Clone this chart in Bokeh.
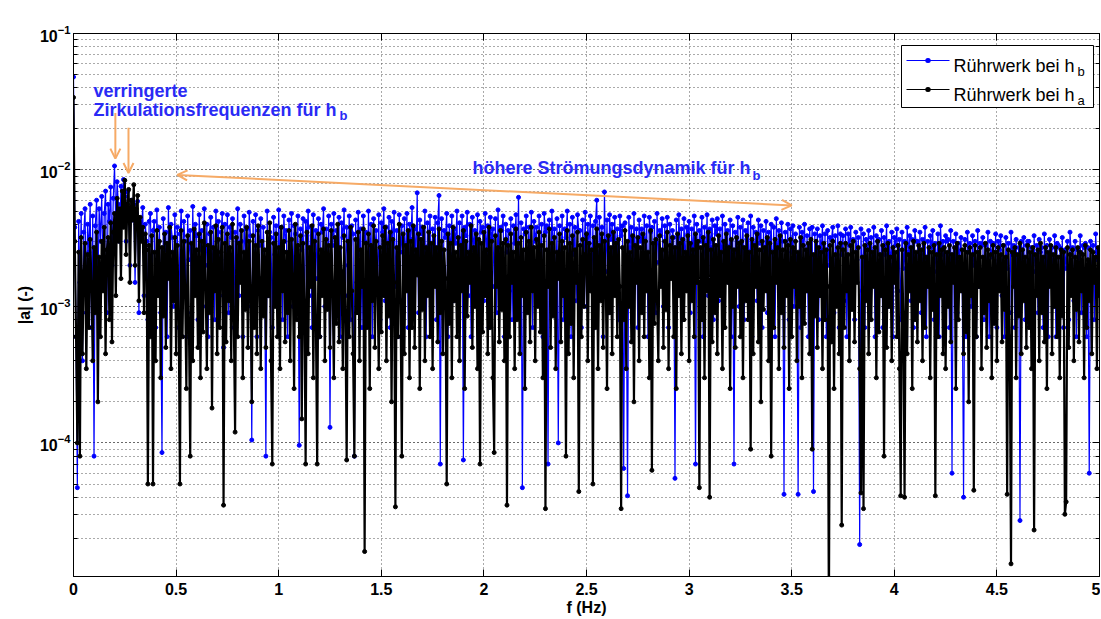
import numpy as np
from bokeh.plotting import figure
from bokeh.models import (Label, Arrow, OpenHead, LinearAxis, LogAxis, BoxAnnotation,
                          FixedTicker, CustomJSTickFormatter, Range1d)
from bokeh.embed import file_html
from bokeh.resources import INLINE

# |a| amplitude spectra, in units of 1e-5, equally spaced bins from 0 to 5 Hz
amp_hb_e5 = [
    4800, 380, 60, 4.7, 420, 150, 480, 40, 350, 520, 90, 400, 250, 560, 70, 460, 8, 390, 600, 120,
    520, 300, 640, 180, 480, 700, 90, 560, 420, 750, 200, 620, 1070, 380, 820, 560, 300, 760, 480, 850,
    640, 300, 690, 520, 200, 600, 430, 560, 150, 480, 590, 90, 420, 380, 530, 120, 400, 300, 80, 420,
    480, 110, 360, 420, 70, 510, 200, 380, 90, 8.5, 440, 260, 350, 60, 530, 180, 400, 320, 100, 470,
    200, 380, 70, 340, 500, 120, 420, 300, 60, 460, 220, 360, 90, 540, 150, 400, 330, 80, 470, 260,
    360, 100, 520, 200, 400, 60, 340, 450, 150, 380, 80, 500, 300, 420, 120, 350, 480, 50, 400, 220,
    470, 90, 380, 320, 440, 70, 350, 180, 520, 120, 400, 300, 60, 460, 240, 370, 100, 490, 330, 10.5,
    420, 150, 470, 60, 360, 280, 440, 90, 380, 200, 8, 500, 120, 350, 320, 70, 450, 240, 390, 110,
    510, 180, 380, 80, 460, 300, 360, 60, 430, 220, 480, 100, 390, 340, 150, 460, 9.6, 370, 260, 440,
    90, 420, 330, 500, 120, 380, 70, 470, 240, 360, 160, 440, 60, 400, 350, 520, 100, 370, 200, 460,
    13, 400, 280, 480, 90, 360, 180, 450, 60, 410, 320, 510, 120, 380, 200, 460, 80, 390, 340, 8,
    430, 150, 490, 240, 370, 70, 460, 300, 350, 100, 500, 190, 400, 60, 440, 260, 360, 130, 470, 80,
    410, 350, 520, 110, 380, 220, 450, 70, 420, 300, 490, 140, 360, 60, 470, 250, 390, 90, 440, 180,
    480, 70, 400, 310, 530, 120, 370, 220, 680, 90, 430, 340, 380, 150, 500, 60, 410, 280, 460, 100,
    370, 230, 450, 80, 410, 650, 7, 440, 170, 360, 320, 480, 60, 390, 240, 460, 110, 370, 290, 500,
    90, 410, 200, 460, 7.5, 380, 330, 490, 120, 400, 60, 450, 260, 360, 150, 470, 80, 420, 350, 380,
    110, 480, 240, 390, 70, 450, 310, 370, 140, 440, 90, 510, 200, 380, 360, 460, 60, 400, 250, 360,
    130, 440, 80, 390, 290, 470, 160, 630, 90, 410, 4.7, 370, 340, 460, 120, 380, 220, 490, 70, 420,
    300, 380, 110, 460, 200, 400, 60, 480, 350, 390, 7, 430, 140, 500, 250, 370, 90, 440, 10, 390,
    180, 460, 80, 370, 320, 500, 130, 400, 60, 450, 240, 380, 110, 470, 360, 360, 70, 430, 200, 490,
    100, 400, 290, 460, 150, 390, 70, 420, 600, 120, 450, 250, 380, 60, 690, 180, 430, 90, 470, 310,
    400, 130, 450, 220, 370, 80, 460, 330, 390, 6.5, 410, 160, 4.1, 450, 270, 380, 100, 480, 190, 370,
    70, 430, 300, 370, 120, 460, 240, 390, 60, 450, 350, 380, 140, 420, 90, 480, 210, 360, 330, 440,
    100, 390, 250, 450, 70, 400, 180, 360, 320, 5.5, 430, 130, 470, 260, 370, 80, 440, 200, 380, 340,
    420, 90, 370, 230, 460, 7, 400, 150, 360, 300, 450, 60, 380, 210, 470, 120, 370, 270, 430, 80,
    390, 340, 440, 110, 370, 200, 460, 70, 400, 280, 360, 150, 430, 60, 390, 7, 350, 250, 450, 100,
    380, 190, 430, 80, 360, 310, 410, 130, 460, 60, 380, 230, 350, 110, 430, 290, 390, 70, 360, 180,
    420, 90, 350, 260, 400, 140, 380, 60, 440, 220, 360, 110, 410, 300, 4.2, 350, 170, 400, 80, 370,
    250, 390, 100, 340, 190, 4.2, 380, 70, 350, 280, 400, 130, 330, 60, 370, 220, 380, 4.4, 340, 150,
    370, 80, 330, 260, 390, 120, 340, 60, 360, 200, 320, 310, 380, 90, 330, 170, 390, 70, 340, 240,
    330, 110, 370, 60, 340, 280, 380, 150, 310, 80, 350, 220, 320, 1.8, 370, 130, 340, 70, 310, 260,
    360, 90, 320, 180, 380, 60, 330, 300, 310, 120, 360, 70, 320, 240, 390, 100, 300, 200, 350, 60,
    320, 280, 370, 130, 310, 80, 350, 190, 300, 60, 380, 250, 330, 110, 310, 70, 360, 300, 300, 150,
    350, 90, 310, 220, 380, 60, 300, 140, 330, 270, 360, 80, 290, 180, 340, 60, 390, 240, 300, 110,
    330, 300, 310, 70, 360, 6, 300, 160, 340, 90, 290, 230, 320, 130, 4, 310, 60, 350, 250, 290,
    100, 330, 200, 300, 60, 360, 140, 290, 280, 320, 80, 280, 170, 350, 60, 300, 230, 290, 110, 340,
    70, 300, 260, 330, 120, 280, 60, 320, 190, 290, 90, 350, 240, 280, 70, 310, 150, 270, 2.7, 300,
    210, 320, 80, 280, 300, 300, 110, 270, 60, 330, 180, 280, 90, 310, 250, 270, 70, 340, 140, 280,
    60, 310, 220, 270, 100, 330, 60, 290, 280, 270, 130, 320, 70, 260, 190, 300, 80, 350, 240, 270,
    110, 300, 60, 260, 200, 330, 90, 280, 270, 290, 60, 270, 6, 300, 150, 280, 80, 340, 220, 260,
    180,
]

amp_ha_e5 = [
    3400, 300, 60, 10, 250, 8, 320, 45, 180, 290, 35, 240, 70, 310, 150, 40, 270, 90, 350, 20,
    230, 60, 300, 130, 380, 45, 260, 320, 80, 410, 55, 350, 480, 120, 620, 300, 520, 160, 700, 380,
    840, 240, 560, 720, 150, 600, 430, 780, 200, 520, 650, 110, 450, 300, 380, 90, 340, 260, 5, 280,
    60, 330, 5, 250, 40, 360, 120, 300, 30, 270, 85, 340, 50, 290, 160, 380, 35, 250, 110, 320,
    45, 280, 90, 5, 360, 60, 300, 140, 25, 330, 75, 8, 290, 40, 370, 120, 260, 50, 340, 30,
    300, 65, 410, 150, 35, 280, 90, 350, 18, 270, 130, 390, 45, 310, 70, 250, 380, 3.5, 290, 55,
    340, 110, 270, 40, 400, 80, 12, 320, 60, 290, 150, 360, 30, 250, 95, 380, 50, 300, 140, 20,
    330, 70, 280, 45, 390, 160, 35, 300, 85, 260, 50, 350, 120, 410, 40, 7, 290, 100, 340, 60,
    270, 35, 380, 130, 300, 55, 250, 90, 360, 40, 310, 170, 25, 400, 80, 280, 60, 330, 15, 290,
    110, 7, 350, 45, 270, 140, 390, 30, 300, 80, 7, 340, 60, 260, 120, 370, 40, 310, 95, 280,
    50, 360, 150, 30, 320, 75, 400, 55, 270, 180, 35, 330, 90, 7.5, 300, 60, 380, 130, 45, 8,
    310, 90, 350, 40, 260, 140, 370, 1.6, 290, 70, 340, 25, 280, 110, 390, 50, 300, 160, 35, 270,
    65, 330, 120, 380, 40, 290, 85, 350, 20, 310, 150, 3.4, 270, 60, 400, 110, 8, 340, 45, 280,
    130, 360, 30, 300, 70, 390, 50, 260, 170, 340, 25, 310, 95, 380, 40, 270, 120, 350, 60, 290,
    35, 330, 140, 270, 55, 370, 90, 300, 45, 260, 160, 5, 340, 75, 290, 30, 380, 110, 250, 60,
    320, 40, 280, 130, 360, 25, 300, 85, 250, 150, 390, 50, 270, 100, 340, 35, 310, 7, 290, 65,
    350, 120, 260, 45, 380, 70, 300, 30, 8.5, 330, 140, 270, 55, 360, 95, 290, 40, 310, 3.5, 280,
    60, 340, 150, 250, 35, 370, 80, 290, 45, 320, 120, 260, 25, 350, 90, 300, 55, 380, 130, 270,
    40, 310, 100, 350, 65, 280, 30, 330, 3.3, 260, 140, 370, 50, 290, 85, 320, 35, 250, 160, 340,
    55, 300, 120, 270, 8, 360, 45, 290, 75, 330, 30, 260, 150, 350, 4.4, 280, 60, 310, 100, 240,
    340, 40, 290, 130, 260, 5, 320, 70, 370, 35, 280, 110, 340, 50, 300, 160, 25, 330, 90, 270,
    45, 350, 120, 290, 60, 310, 140, 3.3, 270, 80, 360, 35, 300, 100, 250, 55, 330, 20, 280, 150,
    320, 40, 270, 90, 340, 60, 300, 130, 250, 30, 360, 6.3, 290, 75, 310, 110, 40, 330, 140, 260,
    50, 300, 95, 350, 35, 280, 160, 320, 60, 270, 25, 340, 120, 290, 45, 310, 80, 250, 130, 330,
    40, 290, 110, 260, 60, 340, 150, 300, 4.7, 270, 80, 320, 30, 280, 130, 350, 4, 260, 55, 310,
    90, 280, 45, 330, 120, 250, 35, 300, 70, 340, 150, 270, 25, 310, 100, 260, 50, 320, 140, 290,
    60, 300, 30, 270, 110, 330, 80, 250, 9, 310, 45, 280, 140, 340, 55, 260, 20, 300, 95, 270,
    130, 320, 40, 290, 8, 250, 70, 310, 150, 270, 35, 330, 90, 260, 50, 300, 120, 280, 25, 310,
    60, 270, 140, 300, 40, 250, 100, 320, 30, 280, 75, 260, 130, 290, 45, 310, 9, 240, 85, 300,
    50, 270, 120, 250, 35, 290, 80, 260, 140, 0.5, 280, 55, 300, 25, 240, 100, 270, 45, 290, 2.5,
    260, 70, 290, 130, 240, 40, 280, 95, 300, 55, 250, 150, 270, 35, 4.3, 230, 3.3, 280, 110, 260,
    45, 290, 80, 250, 140, 270, 30, 300, 65, 240, 120, 280, 8, 260, 50, 290, 100, 230, 40, 270,
    150, 250, 60, 280, 35, 4.1, 260, 90, 4, 290, 45, 240, 130, 270, 25, 300, 80, 250, 55, 280,
    110, 260, 40, 290, 70, 230, 140, 270, 30, 250, 95, 280, 4.1, 240, 60, 290, 120, 260, 45, 270,
    35, 250, 100, 280, 55, 240, 150, 270, 25, 290, 80, 230, 130, 260, 45, 280, 65, 250, 20, 270,
    120, 240, 4.5, 280, 60, 250, 140, 270, 35, 230, 90, 290, 50, 260, 110, 240, 30, 280, 75, 250,
    40, 270, 130, 240, 55, 280, 95, 230, 4.2, 260, 60, 1.3, 250, 140, 270, 30, 240, 85, 290, 45,
    260, 110, 230, 50, 280, 70, 250, 35, 270, 2.3, 240, 120, 260, 40, 290, 90, 230, 55, 270, 25,
    250, 140, 280, 45, 240, 100, 270, 60, 230, 30, 260, 85, 250, 3, 3.7, 270, 50, 240, 120, 260,
    40, 230, 95, 270, 55, 250, 130, 240, 30, 280, 70, 220, 110, 260, 45, 250, 150, 230, 35, 270,
    120,
]

x_ticks = [0, 0.5, 1, 1.5, 2, 2.5, 3, 3.5, 4, 4.5, 5]
x_tick_labels = ["0", "0.5", "1", "1.5", "2", "2.5", "3", "3.5", "4", "4.5", "5"]
legend_labels = ["Rührwerk bei h", "Rührwerk bei h"]
legend_subscripts = ["b", "a"]

hb = np.array(amp_hb_e5) * 1e-5
ha = np.array(amp_ha_e5) * 1e-5
f_hb = np.linspace(0, 5, len(hb))
f_ha = np.linspace(0, 5, len(ha))

FONT = "Liberation Sans"
BLUE = "#0000ff"
TXT_BLUE = "#2a2af5"
ORANGE = "#f6aa66"
GRID = "#555555"
Y_LO, Y_HI = 1.05e-5, 1e-1

p = figure(width=1100, height=618, x_range=Range1d(0, 5), y_range=Range1d(Y_LO, Y_HI),
           y_axis_type="log", output_backend="svg", toolbar_location=None,
           min_border_left=73, min_border_right=1, min_border_top=33, min_border_bottom=42)
p.background_fill_color = "white"
p.border_fill_color = "white"
p.outline_line_color = "black"
p.outline_line_width = 1

# frame-pixel helpers for placing annotations (frame: x 73..1099, y 33..576)
def fx(px):
    return (px - 73) / (1099 - 73) * 5

def fy(py):
    lo, hi = np.log10(Y_LO), np.log10(Y_HI)
    return 10 ** (hi - (py - 33) / (576 - 33) * (hi - lo))

rb_line = p.line(f_hb, hb, line_color=BLUE, line_width=1.2)
rb_pts = p.scatter(f_hb, hb, size=4, fill_color=BLUE, line_color=BLUE)
ra_line = p.line(f_ha, ha, line_color="black", line_width=2.2)
ra_pts = p.scatter(f_ha, ha, size=4, fill_color="black", line_color="black")

# axes
xa = p.xaxis[0]
ya = p.yaxis[0]
xa.ticker = FixedTicker(ticks=x_ticks)
xa.major_label_overrides = {t: l for t, l in zip(x_ticks, x_tick_labels)}
for ax in (xa, ya):
    ax.major_tick_in = 7
    ax.major_tick_out = 0
    ax.minor_tick_in = 4
    ax.minor_tick_out = 0
    ax.axis_line_color = "black"
    ax.major_tick_line_color = "black"
    ax.minor_tick_line_color = "black"
    ax.major_label_text_font = FONT
    ax.major_label_text_font_style = "bold"
    ax.major_label_text_font_size = "16px"
    ax.major_label_text_color = "black"
    ax.axis_label_text_font = FONT
    ax.axis_label_text_font_style = "bold"
    ax.axis_label_text_font_size = "16px"
    ax.axis_label_text_color = "black"
xa.major_label_standoff = 6
ya.major_label_standoff = 3
xa.axis_label = "f (Hz)"
xa.axis_label_standoff = 1
ya.axis_label = "|a| (-)"
ya.axis_label_standoff = 4

empty = CustomJSTickFormatter(code="return ''")
top_ax = LinearAxis(ticker=FixedTicker(ticks=x_ticks), formatter=empty, major_tick_in=7,
                    major_tick_out=0, minor_tick_out=0, major_label_standoff=0,
                    major_label_text_font_size="1px")
right_ax = LogAxis(formatter=empty, major_tick_in=7, major_tick_out=0, minor_tick_in=4,
                   minor_tick_out=0, major_label_standoff=0, major_label_text_font_size="1px")
p.add_layout(top_ax, "above")
p.add_layout(right_ax, "right")

# grid
p.xgrid.ticker = FixedTicker(ticks=x_ticks)
p.xgrid.grid_line_color = GRID
p.xgrid.grid_line_dash = "1 3"
p.ygrid.grid_line_color = GRID
p.ygrid.grid_line_dash = "1 3"
p.ygrid.minor_grid_line_color = GRID
p.ygrid.minor_grid_line_dash = "1 3"

# legend, drawn by hand so that the labels can carry subscripts
p.add_layout(BoxAnnotation(left=fx(901), right=fx(1093), top=fy(45), bottom=fy(107),
                           fill_color="white", fill_alpha=1, line_color="black",
                           line_width=1, line_alpha=1, level="annotation"))
for i, (lab, sub, col) in enumerate(zip(legend_labels, legend_subscripts, [BLUE, "black"])):
    yrow = 60 + 29 * i
    p.add_layout(Arrow(start=None, end=None, x_start=fx(906), x_end=fx(949),
                       y_start=fy(yrow), y_end=fy(yrow), line_color=col, line_width=1,
                       level="overlay"))
    p.add_layout(Arrow(start=None, end=None, x_start=fx(927.3), x_end=fx(927.7),
                       y_start=fy(yrow), y_end=fy(yrow), line_color=col, line_width=5,
                       line_cap="round", level="overlay"))
    p.add_layout(Label(x=fx(953), y=fy(yrow + 5), text=lab, text_baseline="alphabetic",
                       text_font=FONT, text_font_size="18px", text_color="black",
                       level="overlay"))
    p.add_layout(Label(x=fx(1077), y=fy(yrow + 11), text=sub, text_baseline="alphabetic",
                       text_font=FONT, text_font_size="13px", text_color="black",
                       level="overlay"))

# annotations
def blue_label(text, xo, yo, size="18px"):
    p.add_layout(Label(x=0, y=Y_HI, x_offset=xo, y_offset=yo, text=text,
                       text_baseline="alphabetic", text_font=FONT, text_font_style="bold",
                       text_font_size=size, text_color=TXT_BLUE, level="overlay"))

blue_label("verringerte", 20, -57)
blue_label("Zirkulationsfrequenzen für h", 20, -76)
blue_label("b", 266, -82, "13px")
blue_label("höhere Strömungsdynamik für h", 399, -134)
blue_label("b", 679, -142, "13px")

p.add_layout(Arrow(end=OpenHead(size=10, line_color=ORANGE, line_width=2), x_start=0.204,
                   y_start=0.0262, x_end=0.204, y_end=0.0121, line_color=ORANGE, line_width=2))
p.add_layout(Arrow(end=OpenHead(size=10, line_color=ORANGE, line_width=2), x_start=0.268,
                   y_start=0.0204, x_end=0.268, y_end=0.0095, line_color=ORANGE, line_width=2))
p.add_layout(Arrow(start=OpenHead(size=10, line_color=ORANGE, line_width=2),
                   end=OpenHead(size=10, line_color=ORANGE, line_width=2),
                   x_start=0.506, y_start=0.0092, x_end=3.50, y_end=0.0055,
                   line_color=ORANGE, line_width=2))

open("out.html", "w").write(file_html(p, INLINE))
